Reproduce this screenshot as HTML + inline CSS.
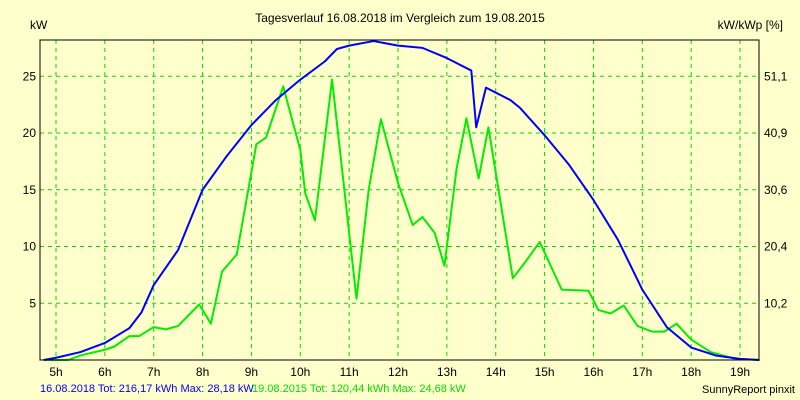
<!DOCTYPE html>
<html><head><meta charset="utf-8"><style>
body{margin:0;background:#ffffcc;}
svg{display:block;font-family:"Liberation Sans",sans-serif;font-size:12px;}
</style></head><body>
<svg width="800" height="400">
<rect x="0" y="0" width="800" height="400" fill="#ffffcc"/>
<text x="400" y="22" text-anchor="middle">Tagesverlauf 16.08.2018 im Vergleich zum 19.08.2015</text>
<text x="30" y="29">kW</text>
<text x="783" y="29" text-anchor="end">kW/kWp [%]</text>
<g id="grid"></g>
<g id="ticks"></g>
<g id="series"></g>
<rect x="40" y="40" width="719" height="320" fill="none" stroke="#000" stroke-width="1"/>
<text x="40" y="392" fill="#0000ff" font-size="11">16.08.2018 Tot: 216,17 kWh Max: 28,18 kW</text>
<text x="252" y="392" fill="#00dd00" font-size="11">19.08.2015 Tot: 120,44 kWh Max: 24,68 kW</text>
<text x="795" y="393" text-anchor="end" font-size="11">SunnyReport pinxit</text>
</svg>
<script>
const hourTicks=[5,6,7,8,9,10,11,12,13,14,15,16,17,18,19];
const yTicks=[5,10,15,20,25];
const rightLabels=["10,2","20,4","30,6","40,9","51,1"];
const blueT=[4.75,5,5.5,6,6.5,6.75,7,7.5,8,8.5,9,9.5,10,10.5,10.75,11,11.5,12,12.5,13,13.5,13.6,13.8,14.3,14.5,15,15.5,16,16.5,17,17.5,18,18.5,19,19.4];
const blueV=[0,0.2,0.7,1.5,2.8,4.2,6.6,9.7,15,18,20.7,22.9,24.7,26.3,27.4,27.7,28.1,27.7,27.5,26.6,25.5,20.5,24,22.9,22.2,19.8,17.2,14.1,10.6,6.2,2.9,1.1,0.4,0.1,0];
const greenT=[4.75,5.25,5.5,6,6.2,6.5,6.7,7,7.25,7.5,7.93,8.17,8.4,8.7,9.1,9.3,9.65,10,10.1,10.3,10.65,11.15,11.4,11.65,12,12.3,12.5,12.75,12.95,13.2,13.4,13.65,13.85,14.35,14.6,14.9,15.35,15.9,16.1,16.35,16.62,16.9,17.2,17.45,17.7,18,18.4,18.9,19.4];
const greenV=[0,0,0.4,0.9,1.2,2.1,2.1,2.9,2.7,3,4.9,3.2,7.8,9.3,19,19.6,24.1,18.5,14.7,12.3,24.7,5.4,15,21.2,15.6,11.9,12.6,11.2,8.3,16.9,21.3,16,20.5,7.2,8.6,10.4,6.2,6.1,4.4,4.1,4.8,3,2.5,2.5,3.2,1.8,0.7,0.1,0];
const X=h=>56+(h-5)*48.86;
const Y=v=>360-v*11.35;
const NS="http://www.w3.org/2000/svg";
const grid=document.getElementById('grid'),ticks=document.getElementById('ticks'),ser=document.getElementById('series');
function mk(tag,attrs,parent){const e=document.createElementNS(NS,tag);for(const k in attrs)e.setAttribute(k,attrs[k]);parent.appendChild(e);return e;}
hourTicks.forEach(h=>{
 const l=mk('line',{x1:X(h),x2:X(h),y1:40,y2:360,stroke:'#00dd00','stroke-dasharray':'4,4'},grid);
 
 
 const t=mk('text',{x:X(h),y:376,'text-anchor':'middle'},ticks);t.textContent=h+'h';
 
 
});
yTicks.forEach((v,i)=>{
 const l=mk('line',{x1:40,x2:759,y1:Y(v),y2:Y(v),stroke:'#00dd00','stroke-dasharray':'4,4'},grid);
 
 
 const t=mk('text',{x:36,y:Y(v)+4,'text-anchor':'end'},ticks);t.textContent=v;
 
 
 const r=mk('text',{x:764,y:Y(v)+4},ticks);r.textContent=rightLabels[i];
 
 
});
function line(T,V,color,name){
 const p=mk('polyline',{points:T.map((t,i)=>X(t)+','+Y(V[i])).join(' '),fill:'none',stroke:color,'stroke-width':2,'stroke-linejoin':'round'},ser);
 
 
}
line(greenT,greenV,'#00ee00','series-2015');
line(blueT,blueV,'#0000ff','series-2018');
</script>
</body></html>
